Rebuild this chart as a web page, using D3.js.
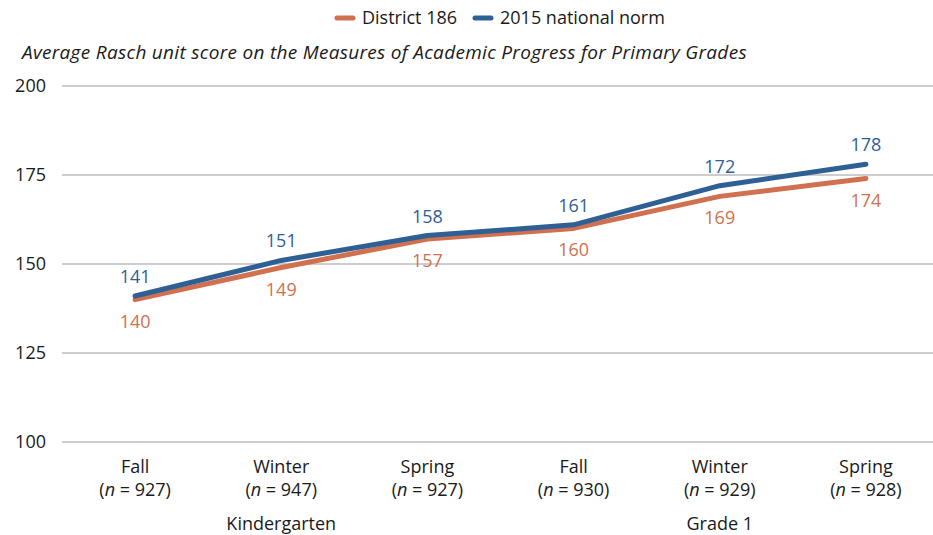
<!DOCTYPE html>
<html lang="en">
<head>
<meta charset="UTF-8">
<title>MAP Primary Grades</title>
<script src="https://cdn.jsdelivr.net/npm/d3@7"></script>
<style>
  body { margin: 0; background: #fff; }
  svg text { font-family: "Open Sans", "Noto Sans", sans-serif; fill: #1a1a1a; }
</style>
</head>
<body>
<svg id="chart" width="933" height="535"></svg>
<script>
var seasons = ["Fall", "Winter", "Spring", "Fall", "Winter", "Spring"];
var counts = [927, 947, 927, 930, 929, 928];
var grades = ["Kindergarten", "Grade 1"];
var district = [140, 149, 157, 160, 169, 174];
var norm = [141, 151, 158, 161, 172, 178];
var yTicks = [100, 125, 150, 175, 200];

var width = 933, height = 535;
var svg = d3.select("#chart");

var x = d3.scaleBand().domain(d3.range(6)).range([62, 939]);
var y = d3.scaleLinear().domain([100, 200]).range([442, 86]);
var cx = function(i){ return x(i) + x.bandwidth() / 2; };

var orange = "#d0704e", blue = "#2e6096";
var fs = "18px";

// gridlines + y labels
svg.append("g").selectAll("line").data(yTicks).join("line")
  .attr("x1", 62).attr("x2", 939)
  .attr("y1", function(d){ return y(d); }).attr("y2", function(d){ return y(d); })
  .attr("stroke", "#bdbdbd").attr("stroke-width", 1.3);

svg.append("g").selectAll("text").data(yTicks).join("text")
  .attr("x", 46).attr("y", function(d){ return y(d); })
  .attr("dy", "0.35em").attr("text-anchor", "end")
  .style("font-size", fs).text(function(d){ return d; });

// x labels
var xl = svg.append("g").selectAll("g").data(seasons).join("g")
  .attr("transform", function(d, i){ return "translate(" + cx(i) + ",0)"; });
xl.append("text").attr("y", 473).attr("text-anchor", "middle")
  .style("font-size", fs).text(function(d){ return d; });
xl.append("text").attr("y", 496).attr("text-anchor", "middle")
  .style("font-size", fs)
  .each(function(d, i){
    var t = d3.select(this);
    t.append("tspan").text("(");
    t.append("tspan").style("font-style", "italic").text("n");
    t.append("tspan").text(" = " + counts[i] + ")");
  });

svg.append("g").selectAll("text").data(grades).join("text")
  .attr("x", function(d, i){ return cx(i * 3 + 1); }).attr("y", 530)
  .attr("text-anchor", "middle").style("font-size", fs)
  .text(function(d){ return d; });

// lines
var line = d3.line().x(function(d, i){ return cx(i); }).y(function(d){ return y(d); });
[[district, orange], [norm, blue]].forEach(function(s){
  svg.append("path").datum(s[0]).attr("d", line)
    .attr("fill", "none").attr("stroke", s[1]).attr("stroke-width", 5)
    .attr("stroke-linecap", "round").attr("stroke-linejoin", "round");
});

// value labels
svg.append("g").selectAll("text").data(norm).join("text")
  .attr("x", function(d, i){ return cx(i); }).attr("y", function(d){ return y(d) - 13; })
  .attr("text-anchor", "middle").style("font-size", fs).style("fill", blue)
  .text(function(d){ return d; });
svg.append("g").selectAll("text").data(district).join("text")
  .attr("x", function(d, i){ return cx(i); }).attr("y", function(d){ return y(d) + 28; })
  .attr("text-anchor", "middle").style("font-size", fs).style("fill", orange)
  .text(function(d){ return d; });

// legend
var legend = [["District 186", orange, 335], ["2015 national norm", blue, 473]];
var lg = svg.append("g").selectAll("g").data(legend).join("g")
  .attr("transform", function(d){ return "translate(" + d[2] + ",18)"; });
lg.append("line").attr("x1", 2).attr("x2", 18)
  .attr("stroke", function(d){ return d[1]; }).attr("stroke-width", 5).attr("stroke-linecap", "round");
lg.append("text").attr("x", 27).attr("dy", "0.35em").style("font-size", fs)
  .text(function(d){ return d[0]; });

// subtitle
svg.append("text").attr("x", 22).attr("y", 59)
  .style("font-size", "19px").style("font-style", "italic").style("letter-spacing", "0.3px")
  .text("Average Rasch unit score on the Measures of Academic Progress for Primary Grades");
</script>
</body>
</html>
